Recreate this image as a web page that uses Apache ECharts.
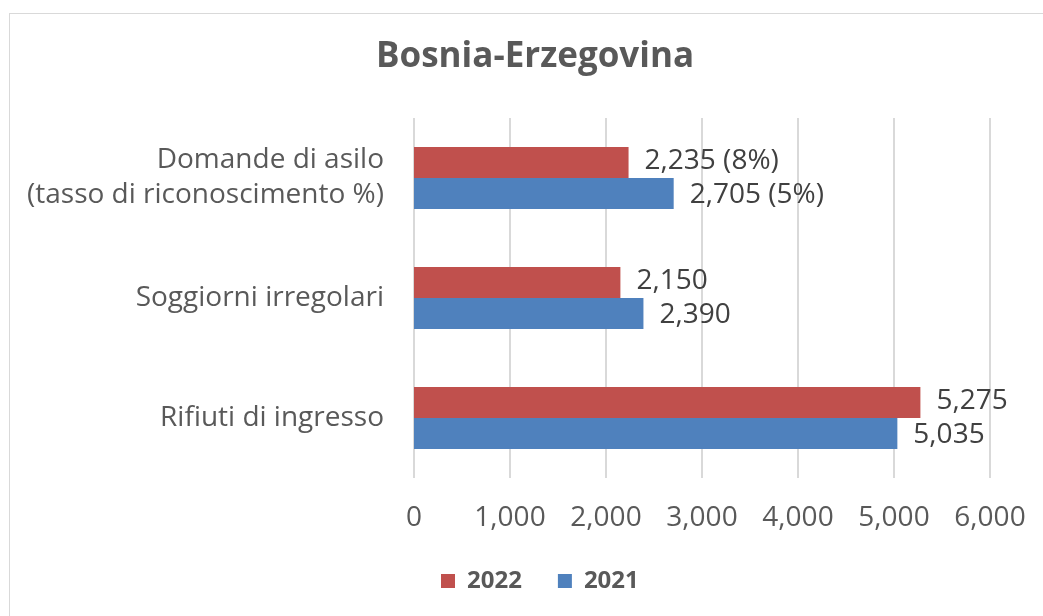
<!DOCTYPE html>
<html>
<head>
<meta charset="utf-8">
<script src="https://cdn.jsdelivr.net/npm/echarts@6/dist/echarts.min.js"></script>
<style>
  html, body { margin: 0; padding: 0; background: #fff; }
  #chart { width: 1043px; height: 616px; }
  #frame { position: absolute; left: 9px; top: 13px; width: 1100px; height: 700px; border: 1px solid #d9d9d9; pointer-events: none; }
</style>
</head>
<body>
<div id="frame"></div>
<div id="chart"></div>
<script>
// categories, bottom to top (category axis runs upward)
const categories = ["Rifiuti di ingresso", "Soggiorni irregolari", "Domande di asilo\n(tasso di riconoscimento %)"];
const values2022 = [5275, 2150, 2235];
const values2021 = [5035, 2390, 2705];
// recognition rate shown next to asylum figures
const rate2022 = [null, null, 8];
const rate2021 = [null, null, 5];
const xTicks = [0, 1000, 2000, 3000, 4000, 5000, 6000];

const font = "Open Sans";
const fmt = v => v.toLocaleString("en-US");

function labelFor(rates) {
  return p => rates[p.dataIndex] == null ? fmt(p.value) : fmt(p.value) + " (" + rates[p.dataIndex] + "%)";
}

const chart = echarts.init(document.getElementById("chart"));
chart.setOption({
  textStyle: { fontFamily: font },
  title: {
    text: "Bosnia-Erzegovina",
    left: 371,
    top: 35,
    textStyle: { fontFamily: font, fontSize: 35, fontWeight: "bold", color: "#595959" }
  },
  legend: {
    data: ["2022", "2021"],
    bottom: 18,
    left: 436,
    itemWidth: 14,
    itemHeight: 14,
    itemGap: 36,
    icon: "rect",
    textStyle: { fontFamily: font, fontSize: 24, fontWeight: "bold", color: "#595959", padding: [0, 0, 0, 7] }
  },
  grid: { left: 414, right: 53, top: 118, bottom: 138 },
  xAxis: {
    type: "value",
    min: xTicks[0],
    max: xTicks[xTicks.length - 1],
    interval: 1000,
    axisLine: { show: false },
    axisTick: { show: false },
    splitLine: { lineStyle: { color: "#d9d9d9", width: 2 } },
    axisLabel: { fontFamily: font, fontSize: 28, color: "#595959", margin: 26, formatter: fmt }
  },
  yAxis: {
    type: "category",
    data: categories,
    axisLine: { show: false },
    axisTick: { show: false },
    axisLabel: { fontFamily: font, fontSize: 28, color: "#595959", margin: 30, lineHeight: 35, align: "right" }
  },
  series: [
    {
      name: "2022",
      type: "bar",
      data: values2022,
      barWidth: 31,
      barGap: "0%",
      itemStyle: { color: "#c0504d" },
      label: { show: true, position: "right", distance: 16, offset: [0, -1], fontFamily: font, fontSize: 28, color: "#404040", formatter: labelFor(rate2022) }
    },
    {
      name: "2021",
      type: "bar",
      data: values2021,
      barWidth: 31,
      barGap: "0%",
      itemStyle: { color: "#4f81bd" },
      label: { show: true, position: "right", distance: 16, offset: [0, 2], fontFamily: font, fontSize: 28, color: "#404040", formatter: labelFor(rate2021) }
    }
  ]
});
</script>
</body>
</html>
